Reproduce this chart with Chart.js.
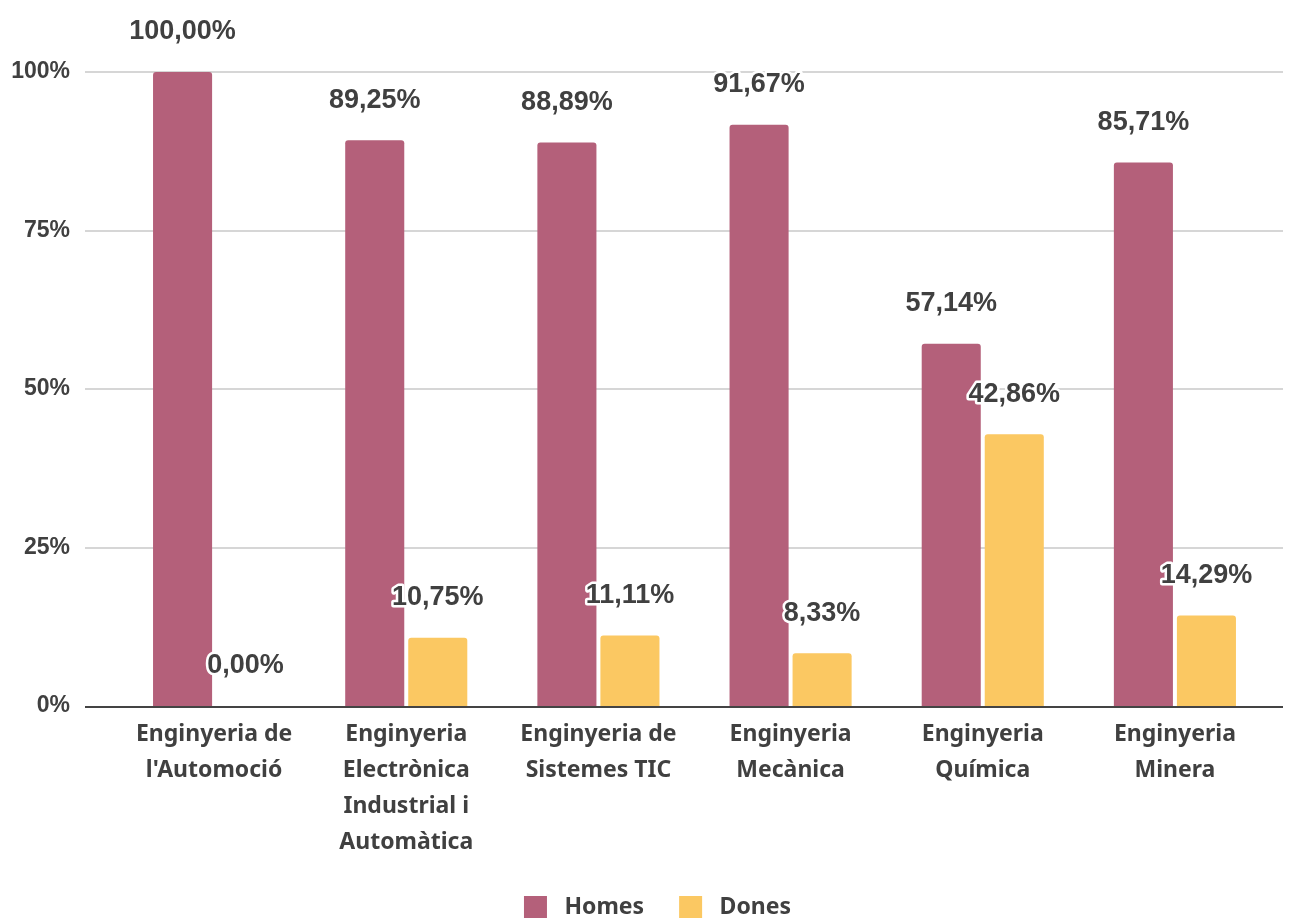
<!DOCTYPE html>
<html>
<head>
<meta charset="utf-8">
<script src="https://cdn.jsdelivr.net/npm/chart.js@4.4.1/dist/chart.umd.min.js"></script>
<style>
html,body{margin:0;padding:0;background:#fff;overflow:hidden;}
#wrap{width:1293px;height:929px;position:relative;}
</style>
</head>
<body>
<div id="wrap"><canvas id="c" width="1293" height="929"></canvas></div>
<script>
const categories = [
  ['Enginyeria de', "l'Automoció"],
  ['Enginyeria', 'Electrònica', 'Industrial i', 'Automàtica'],
  ['Enginyeria de', 'Sistemes TIC'],
  ['Enginyeria', 'Mecànica'],
  ['Enginyeria', 'Química'],
  ['Enginyeria', 'Minera']
];
const homes = [100.00, 89.25, 88.89, 91.67, 57.14, 85.71];
const dones = [0.00, 10.75, 11.11, 8.33, 42.86, 14.29];
const seriesNames = ['Homes', 'Dones'];
const yTicks = [0, 25, 50, 75, 100];

const TEXT = '#404040';

const gridPlugin = {
  id: 'extGrid',
  afterLayout(chart) {
    if (chart.legend) {
      chart.legend.left += 22;
      chart.legend.right += 22;
    }
  },
  beforeDatasetsDraw(chart) {
    const ctx = chart.ctx;
    const y = chart.scales.y;
    ctx.save();
    yTicks.forEach(v => {
      if (v === 0) return;
      const py = Math.round(y.getPixelForValue(v));
      ctx.beginPath();
      ctx.strokeStyle = '#d6d6d6';
      ctx.lineWidth = 2;
      ctx.moveTo(85, py);
      ctx.lineTo(1283, py);
      ctx.stroke();
    });
    ctx.restore();
  },
  afterDatasetsDraw(chart) {
    const ctx = chart.ctx;
    const y = chart.scales.y;
    const py = Math.round(y.getPixelForValue(0));
    ctx.save();
    ctx.strokeStyle = '#444444';
    ctx.lineWidth = 2;
    ctx.beginPath();
    ctx.moveTo(85, py + 1);
    ctx.lineTo(1283, py + 1);
    ctx.stroke();
    // data labels
    ctx.font = 'bold 27px "Liberation Sans", Arial, sans-serif';
    ctx.textAlign = 'center';
    ctx.textBaseline = 'middle';
    ctx.lineJoin = 'round';
    chart.data.datasets.forEach((ds, di) => {
      const meta = chart.getDatasetMeta(di);
      meta.data.forEach((el, i) => {
        const txt = ds.data[i].toFixed(2).replace('.', ',') + '%';
        const ty = el.y - 40;
        ctx.strokeStyle = '#ffffff';
        ctx.lineWidth = 5;
        ctx.strokeText(txt, el.x, ty);
        ctx.fillStyle = TEXT;
        ctx.fillText(txt, el.x, ty);
      });
    });
    ctx.restore();
  }
};

new Chart(document.getElementById('c'), {
  type: 'bar',
  data: {
    labels: categories,
    datasets: [
      { label: seriesNames[0], data: homes, backgroundColor: '#b4607a', borderRadius: 3, borderSkipped: 'bottom' },
      { label: seriesNames[1], data: dones, backgroundColor: '#fbc862', borderRadius: 3, borderSkipped: 'bottom' }
    ]
  },
  options: {
    responsive: false,
    animation: false,
    devicePixelRatio: 1,
    categoryPercentage: 0.656,
    barPercentage: 0.937,
    layout: { padding: { top: 72, right: 22, left: 0, bottom: 0 } },
    plugins: {
      legend: {
        position: 'bottom',
        labels: {
          boxWidth: 23, boxHeight: 23, padding: 35,
          color: TEXT,
          font: { family: '"Noto Sans", "Open Sans", sans-serif', size: 23, weight: 'bold' },
          generateLabels(chart) {
            const items = Chart.defaults.plugins.legend.labels.generateLabels(chart);
            items.forEach(it => { it.text = ' ' + it.text; it.lineWidth = 0; });
            return items;
          }
        }
      },
      tooltip: { enabled: false }
    },
    scales: {
      x: {
        grid: { display: false, drawTicks: false },
        border: { display: false },
        ticks: {
          color: TEXT,
          padding: 10,
          maxRotation: 0,
          autoSkip: false,
          font: { family: '"Noto Sans", "Open Sans", sans-serif', size: 23, weight: 'bold', lineHeight: 1.565 }
        },
        afterFit(s) { s.height = 155; }
      },
      y: {
        min: 0, max: 100,
        afterBuildTicks(s) { s.ticks = yTicks.map(v => ({ value: v })); },
        grid: { display: false, drawTicks: false },
        border: { display: false },
        ticks: {
          color: TEXT,
          padding: 48,
          font: { family: '"Liberation Sans", Arial, sans-serif', size: 23, weight: 'bold' },
          callback: v => v + '%'
        },
        afterFit(s) { s.width = 118; }
      }
    }
  },
  plugins: [gridPlugin]
});
</script>
</body>
</html>
